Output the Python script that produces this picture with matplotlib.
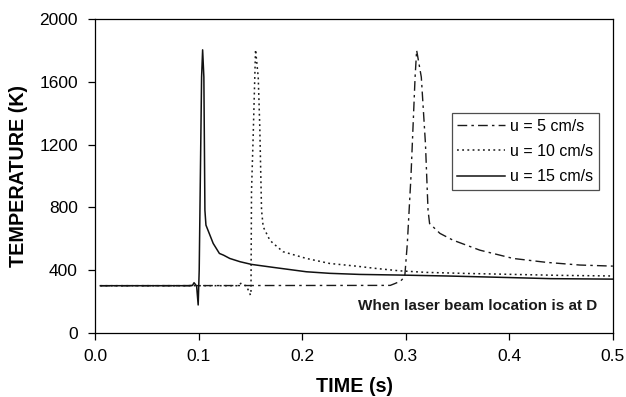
import matplotlib
matplotlib.use("Agg")
import matplotlib.pyplot as plt

plt.rcParams['font.family'] = ['Liberation Sans', 'DejaVu Sans']

# u = 5 cm/s  (dash-dot)
t_5 = [0.005, 0.285, 0.29, 0.295, 0.299, 0.3015, 0.305, 0.309, 0.3105, 0.315,
       0.319, 0.3215, 0.323, 0.333, 0.3455, 0.3715, 0.4037, 0.4358, 0.468, 0.5]
T_5 = [300, 302, 315, 330, 357, 570, 995, 1632, 1803, 1632,
       1207, 782, 697, 634, 591, 527, 474, 449, 432, 425]

# u = 10 cm/s  (dotted)
t_10 = [0.005, 0.138, 0.1406, 0.143, 0.146, 0.1500, 0.1505, 0.151, 0.1526, 0.1549,
        0.1575, 0.159, 0.1607, 0.1623, 0.1687, 0.172, 0.1815, 0.204, 0.2265, 0.252,
        0.2715, 0.294, 0.32, 0.36, 0.383, 0.4486, 0.5]
T_10 = [300, 300, 315, 305, 300, 240, 260, 900, 1250, 1807,
        1632, 1313, 782, 676, 591, 570, 517, 474, 442, 425,
        410, 395, 385, 378, 375, 366, 362]

# u = 15 cm/s  (solid)
t_15 = [0.005, 0.09, 0.094, 0.0955, 0.098, 0.0995, 0.1005, 0.1018, 0.1028, 0.1038,
        0.105, 0.106, 0.107, 0.114, 0.12, 0.124, 0.13, 0.14, 0.151, 0.172,
        0.204, 0.2265, 0.2555, 0.294, 0.34, 0.4, 0.44, 0.5]
T_15 = [300, 300, 302, 319, 298, 177, 400, 1100, 1632, 1806,
        1632, 782, 687, 570, 506, 495, 474, 453, 436, 417,
        389, 379, 372, 368, 362, 352, 345, 342]

x_ticks = [0.0, 0.1, 0.2, 0.3, 0.4, 0.5]
y_ticks = [0, 400, 800, 1200, 1600, 2000]

fig = plt.figure(figsize=(6.26, 3.97), dpi=100)
ax = fig.add_axes([0.152, 0.162, 0.827, 0.789])

ax.plot(t_5, T_5, color='#1a1a1a', lw=1.0, dashes=(7, 3, 1.8, 3), label='u = 5 cm/s')
ax.plot(t_10, T_10, color='#1a1a1a', lw=1.1, dashes=(1.2, 2.2), label='u = 10 cm/s')
ax.plot(t_15, T_15, color='#111111', lw=1.1, label='u = 15 cm/s')

ax.set_xlim(0, 0.5)
ax.set_ylim(0, 2000)
ax.set_xticks(x_ticks)
ax.set_xticklabels([f"{v:.1f}" for v in x_ticks])
ax.set_yticks(y_ticks)
ax.tick_params(direction='out', length=5, width=0.9, labelsize=12.5)
ax.tick_params(axis='x', pad=6.5)
ax.tick_params(axis='y', pad=7.5)
for s in ax.spines.values():
    s.set_linewidth(0.9)

ax.set_xlabel("TIME (s)", fontsize=14.2, fontweight='bold', labelpad=9.5)
ax.set_ylabel("TEMPERATURE (K)", fontsize=14.2, fontweight='bold', labelpad=8)

ax.text(0.4846, 170, "When laser beam location is at D", ha='right', va='center',
        fontsize=11, fontweight='bold', color='#1a1a1a')

leg = ax.legend(loc='upper right', bbox_to_anchor=(0.973, 0.701), fontsize=11.5,
                frameon=True, fancybox=False, handlelength=3.0, borderpad=0.35,
                labelspacing=0.65, handletextpad=0.3, borderaxespad=0)
leg.get_frame().set_edgecolor('#222222')
leg.get_frame().set_linewidth(0.9)

fig.savefig("out.png", dpi=100)
